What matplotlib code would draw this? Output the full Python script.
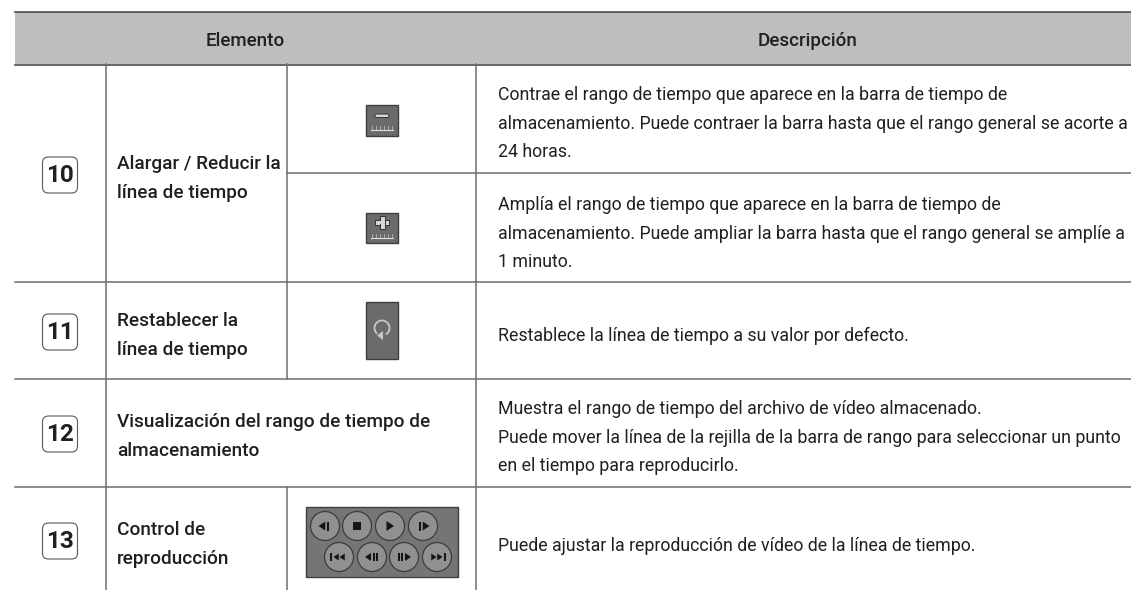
import matplotlib
matplotlib.use("Agg")
import matplotlib.pyplot as plt
from matplotlib.patches import Rectangle, FancyBboxPatch, Circle, Polygon, Arc

W, H = 1131, 590
FONT = 'Roboto'

header = ["Elemento", "Descripción"]
numbers = ["10", "11", "12", "13"]
number_y = [175, 332, 434, 541]
item_labels = [
    (117, 169, "Alargar / Reducir la"), (117, 198, "línea de tiempo"),
    (117, 326, "Restablecer la"), (117, 355, "línea de tiempo"),
    (117, 427, "Visualización del rango de tiempo de"), (117, 456, "almacenamiento"),
    (117, 535, "Control de"), (117, 564, "reproducción"),
]
desc_labels = [
    (498, 100, "Contrae el rango de tiempo que aparece en la barra de tiempo de"),
    (498, 129, "almacenamiento. Puede contraer la barra hasta que el rango general se acorte a"),
    (498, 157, "24 horas."),
    (498, 210, "Amplía el rango de tiempo que aparece en la barra de tiempo de"),
    (498, 239, "almacenamiento. Puede ampliar la barra hasta que el rango general se amplíe a"),
    (498, 267, "1 minuto."),
    (498, 341, "Restablece la línea de tiempo a su valor por defecto."),
    (498, 414, "Muestra el rango de tiempo del archivo de vídeo almacenado."),
    (498, 443, "Puede mover la línea de la rejilla de la barra de rango para seleccionar un punto"),
    (498, 471, "en el tiempo para reproducirlo."),
    (498, 551, "Puede ajustar la reproducción de vídeo de la línea de tiempo."),
]
# horizontal rules: (x start, y); vertical rules: (x, y start, y end)
h_rules = [(287, 173), (15, 282), (15, 378.5), (15, 487)]
v_rules = [(105.5, 64, 590), (476, 64, 590), (287, 64, 378.5), (287, 487, 590)]

fig = plt.figure(figsize=(W / 100, H / 100), dpi=100)
ax = fig.add_axes([0, 0, 1, 1])
ax.set_xlim(0, W); ax.set_ylim(H, 0); ax.axis('off')
TXT = '#231f20'; LINE = '#6d6e70'

ax.add_patch(Rectangle((15, 12), W - 15, 52, fc='#bcbec0', ec='none'))
ax.plot([15, W], [12, 12], color='#4a4a4a', lw=1.2)
ax.plot([15, W], [64.5, 64.5], color='#4a4a4a', lw=1.2)
for x, y in h_rules:
    ax.plot([x, W], [y, y], color=LINE, lw=1.1)
for x, y0, y1 in v_rules:
    ax.plot([x, x], [y0, y1], color=LINE, lw=1.1)

ax.text(245.5, 45.5, header[0], ha='center', va='baseline', family=FONT, fontsize=13.5, fontweight='medium', color=TXT)
ax.text(807.5, 45.5, header[1], ha='center', va='baseline', family=FONT, fontsize=13.5, fontweight='medium', color=TXT)
for x, y, s in item_labels:
    ax.text(x, y, s, va='baseline', family=FONT, fontsize=13.7, fontweight='medium', color=TXT)
for x, y, s in desc_labels:
    ax.text(x, y, s, va='baseline', family=FONT, fontsize=12.8, color=TXT)
for s, y in zip(numbers, number_y):
    ax.add_patch(FancyBboxPatch((42.5, y - 18), 35, 36, boxstyle='round,pad=0,rounding_size=6',
                                fc='white', ec='#58595b', lw=0.8))
    ax.text(60, y + 0.5, s, ha='center', va='center', family='Roboto', fontweight='bold',
            fontsize=17.5, color=TXT)

# icons
def icon(x, y, w, h):
    ax.add_patch(Rectangle((x, y), w, h, fc='#6a6b6d', ec='#3f3f3f', lw=1))
icon(366, 105, 32, 31)
ax.add_patch(FancyBboxPatch((375, 114), 14, 3.5, boxstyle='round,pad=0,rounding_size=1.5', fc='#d6d6d6', ec='#333333', lw=0.7))
icon(366, 213, 32, 30)
ax.add_patch(Rectangle((375, 220), 14, 5, fc='#d6d6d6', ec='#333333', lw=0.7))
ax.add_patch(Rectangle((379.5, 216), 5, 13, fc='#d6d6d6', ec='#333333', lw=0.7))
ax.add_patch(Rectangle((380, 221), 4, 3, fc='#d6d6d6', ec='none'))
for yy in (126, 234):
    ax.plot([371, 393], [yy + 3.5, yy + 3.5], color='#e0e0e0', lw=0.8)
    for xx in (372, 376, 380, 384, 388, 392):
        ax.plot([xx, xx], [yy, yy + 3], color='#cccccc', lw=0.5)
icon(366, 302, 32, 57)
ax.add_patch(Arc((382, 328), 15, 15, theta1=-230, theta2=60, color='#c8c8c8', lw=1.3))
ax.add_patch(Polygon([(383, 331), (383, 340), (377, 335.5)], fc='#c8c8c8'))

ax.add_patch(Rectangle((306, 507), 152, 70, fc='#747577', ec='#3f3f3f', lw=1))
top = [(325, 'prev'), (357, 'stop'), (390, 'play'), (423, 'next')]
bot = [(339, 'first'), (372, 'back'), (404, 'fwd'), (437, 'last')]
def tri(cx, cy, d, s=4.5):
    ax.add_patch(Polygon([(cx - d * s / 2, cy - s), (cx - d * s / 2, cy + s), (cx + d * s, cy)], fc='#151515', ec='none'))
def bar(cx, cy, w=1.6, h=4.5):
    ax.add_patch(Rectangle((cx - w / 2, cy - h), w, 2 * h, fc='#151515', ec='none'))
for y, row in ((526, top), (557, bot)):
    for cx, kind in row:
        ax.add_patch(Circle((cx, y), 14.5, fc='#8f9092', ec='#3c3c3c', lw=0.9))
        if kind == 'prev': tri(cx - 2, y, -1); bar(cx + 3, y)
        if kind == 'next': tri(cx + 2, y, 1); bar(cx - 3, y)
        if kind == 'stop': ax.add_patch(Rectangle((cx - 4, y - 4), 8, 8, fc='#151515'))
        if kind == 'play': tri(cx - 1, y, 1, 5)
        if kind == 'first': bar(cx - 8, y, 1.5, 4); tri(cx - 2, y, -1, 3.5); tri(cx + 4, y, -1, 3.5)
        if kind == 'last': bar(cx + 8, y, 1.5, 4); tri(cx + 2, y, 1, 3.5); tri(cx - 4, y, 1, 3.5)
        if kind == 'back': tri(cx - 3, y, -1, 4); bar(cx + 2, y, 1.5, 4); bar(cx + 5, y, 1.5, 4)
        if kind == 'fwd': tri(cx + 3, y, 1, 4); bar(cx - 2, y, 1.5, 4); bar(cx - 5, y, 1.5, 4)

fig.savefig('out.png', dpi=100, facecolor='white')
